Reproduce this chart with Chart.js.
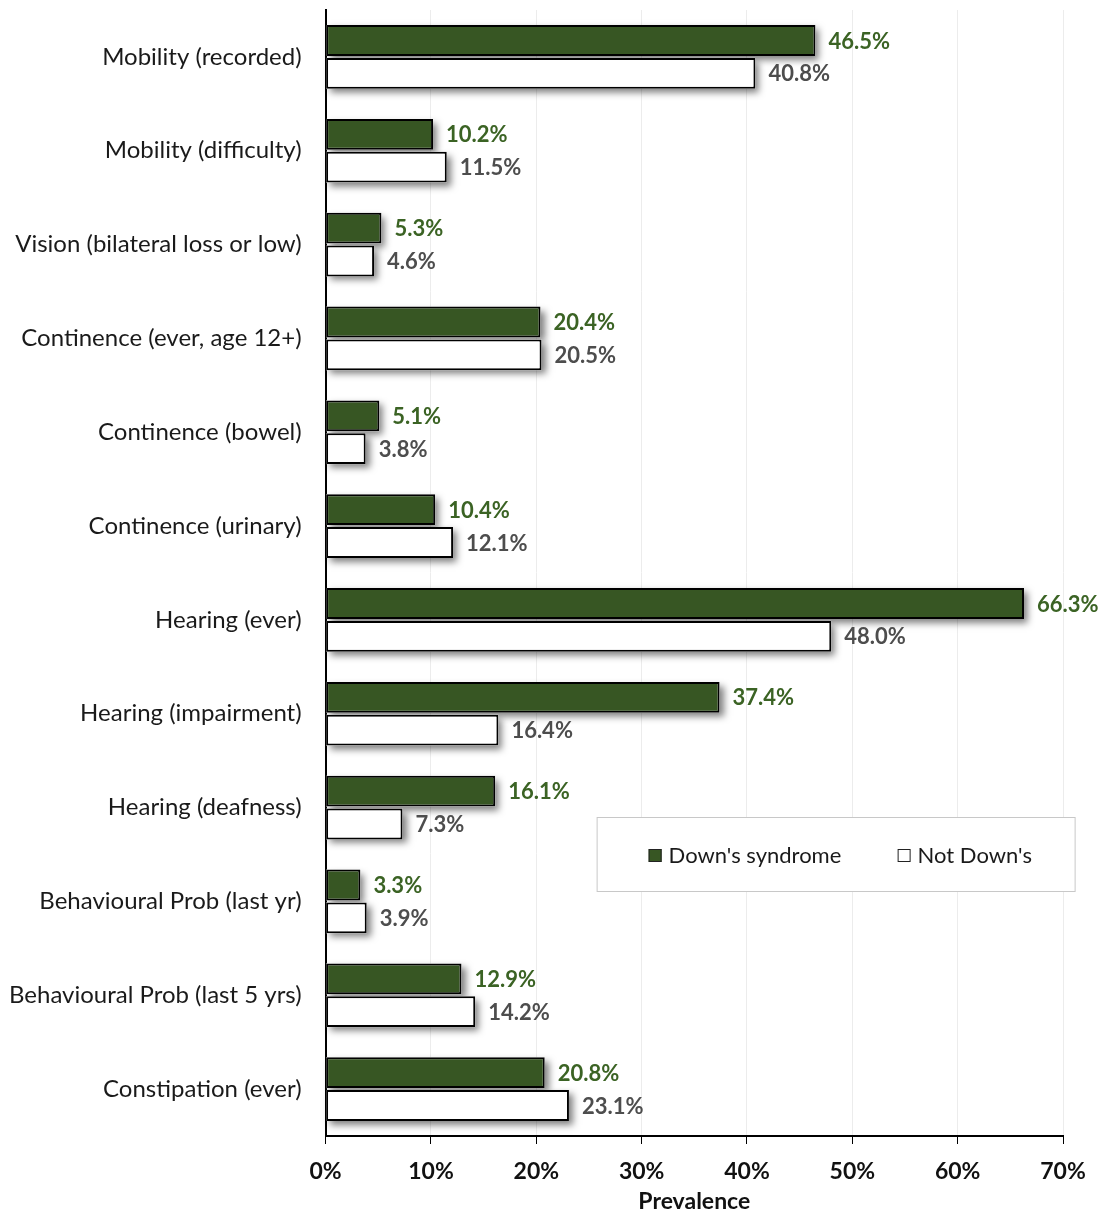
<!DOCTYPE html>
<html>
<head>
<meta charset="utf-8">
<script src="https://cdn.jsdelivr.net/npm/chart.js@4.4.0/dist/chart.umd.min.js"></script>
<style>
  html, body { margin: 0; padding: 0; background: #fff; }
  #wrap { width: 1099px; height: 1213px; }
</style>
</head>
<body>
<div id="wrap"><canvas id="myChart" width="1099" height="1213"></canvas></div>
<script>
let categories = ['Mobility (recorded)', 'Mobility (difficulty)', 'Vision (bilateral loss or low)',
    'Continence (ever, age 12+)', 'Continence (bowel)', 'Continence (urinary)', 'Hearing (ever)',
    'Hearing (impairment)', 'Hearing (deafness)', 'Behavioural Prob (last yr)',
    'Behavioural Prob (last 5 yrs)', 'Constipation (ever)'];
let downs = [46.5, 10.2, 5.3, 20.4, 5.1, 10.4, 66.3, 37.4, 16.1, 3.3, 12.9, 20.8];
let notDowns = [40.8, 11.5, 4.6, 20.5, 3.8, 12.1, 48.0, 16.4, 7.3, 3.9, 14.2, 23.1];
let seriesNames = ["Down's syndrome", "Not Down's"];
let xTicks = [0, 10, 20, 30, 40, 50, 60, 70];

let fontFamily = 'Lato, "Open Sans", sans-serif';
let green = '#375623';
let labelColors = ['#3b6324', '#4d4d4d'];

// drop shadow under bars (bar elements clip themselves, so shadows go first)
// and value labels after
let shadowPlugin = {
    id: 'shadowLabels',
    beforeDatasetsDraw(chart) {
        let c = chart.ctx;
        c.save();
        c.shadowColor = 'rgba(0,0,0,0.5)';
        c.shadowBlur = 7;
        c.shadowOffsetX = 4;
        c.shadowOffsetY = 4;
        c.fillStyle = '#fff';
        chart.data.datasets.forEach((ds, i) => {
            chart.getDatasetMeta(i).data.forEach(bar => {
                let p = bar.getProps(['x', 'y', 'base', 'height']);
                c.fillRect(p.base, p.y - p.height / 2, p.x - p.base, p.height);
            });
        });
        c.restore();
    },
    afterDatasetsDraw(chart) {
        let c = chart.ctx;
        c.save();
        c.font = 'bold 22px ' + fontFamily;
        c.textBaseline = 'middle';
        c.textAlign = 'left';
        chart.data.datasets.forEach((ds, i) => {
            let meta = chart.getDatasetMeta(i);
            c.fillStyle = labelColors[i];
            meta.data.forEach((bar, j) => {
                c.fillText(ds.data[j].toFixed(1) + '%', bar.x + 13, bar.y + 1);
            });
        });
        c.restore();
    }
};

// boxed legend sitting inside the plot
let legendPlugin = {
    id: 'boxLegend',
    afterDraw(chart) {
        let c = chart.ctx;
        let a = chart.chartArea;
        let left = a.left + 271, top = a.top + 807, w = 478, h = 74;
        c.save();
        c.fillStyle = '#fff';
        c.fillRect(left, top, w, h);
        c.strokeStyle = '#c8c8c8';
        c.lineWidth = 1;
        c.strokeRect(left + 0.5, top + 0.5, w, h);
        c.font = '22px ' + fontFamily;
        c.textBaseline = 'middle';
        let cy = top + 38;
        let items = [[left + 52, green], [left + 301, '#fff']];
        items.forEach((it, i) => {
            c.fillStyle = it[1];
            c.fillRect(it[0], cy - 6, 13, 13);
            c.strokeStyle = '#222';
            c.strokeRect(it[0] + 0.5, cy - 5.5, 12, 12);
            c.fillStyle = '#1a1a1a';
            c.fillText(seriesNames[i], it[0] + 20, cy + 1);
        });
        c.restore();
    }
};

// keep tick padding from pushing the plot area in
function noEdgePadding(scale) {
    scale.paddingTop = 0;
    scale.paddingBottom = 0;
    scale.paddingLeft = 0;
    scale.paddingRight = 0;
}

function drawChart() {
    let ctx = document.getElementById('myChart').getContext('2d');
    new Chart(ctx, {
        type: 'bar',
        data: {
            labels: categories,
            datasets: [{
                label: seriesNames[0],
                data: downs,
                backgroundColor: green,
                borderColor: '#000',
                borderWidth: 2,
                borderSkipped: false
            }, {
                label: seriesNames[1],
                data: notDowns,
                backgroundColor: '#fff',
                borderColor: '#000',
                borderWidth: 2,
                borderSkipped: false
            }]
        },
        options: {
            indexAxis: 'y',
            responsive: false,
            animation: false,
            categoryPercentage: 0.7,
            barPercentage: 0.94,
            layout: {
                padding: { top: 10, right: 36, left: 10, bottom: 0 }
            },
            plugins: {
                legend: { display: false },
                tooltip: { enabled: false }
            },
            scales: {
                x: {
                    min: 0,
                    max: 70,
                    afterBuildTicks(scale) {
                        scale.ticks = xTicks.map(v => ({ value: v }));
                    },
                    afterFit(scale) {
                        noEdgePadding(scale);
                        scale.height -= scale.options.ticks.padding;
                    },
                    ticks: {
                        callback: v => v + '%',
                        color: '#111',
                        font: { family: fontFamily, size: 23, weight: 'bold', lineHeight: 1 },
                        padding: 16,
                        maxRotation: 0
                    },
                    grid: {
                        color: '#ececec',
                        tickColor: '#000',
                        tickLength: 8,
                        drawTicks: true
                    },
                    border: { color: '#000', width: 2 },
                    title: {
                        display: true,
                        text: 'Prevalence',
                        color: '#111',
                        font: { family: fontFamily, size: 23, weight: 'bold', lineHeight: 1 },
                        padding: { top: 7, bottom: 0 }
                    }
                },
                y: {
                    afterFit(scale) {
                        noEdgePadding(scale);
                        scale.width -= scale.options.ticks.padding + 1;
                    },
                    ticks: {
                        color: '#1a1a1a',
                        font: { family: fontFamily, size: 24, lineHeight: 1 },
                        padding: 24
                    },
                    grid: { display: false, drawTicks: false },
                    border: { color: '#000', width: 2 }
                }
            }
        },
        plugins: [shadowPlugin, legendPlugin]
    });
}

Promise.all([
    document.fonts.load('24px Lato'),
    document.fonts.load('bold 23px Lato')
]).then(drawChart, drawChart);
</script>
</body>
</html>
